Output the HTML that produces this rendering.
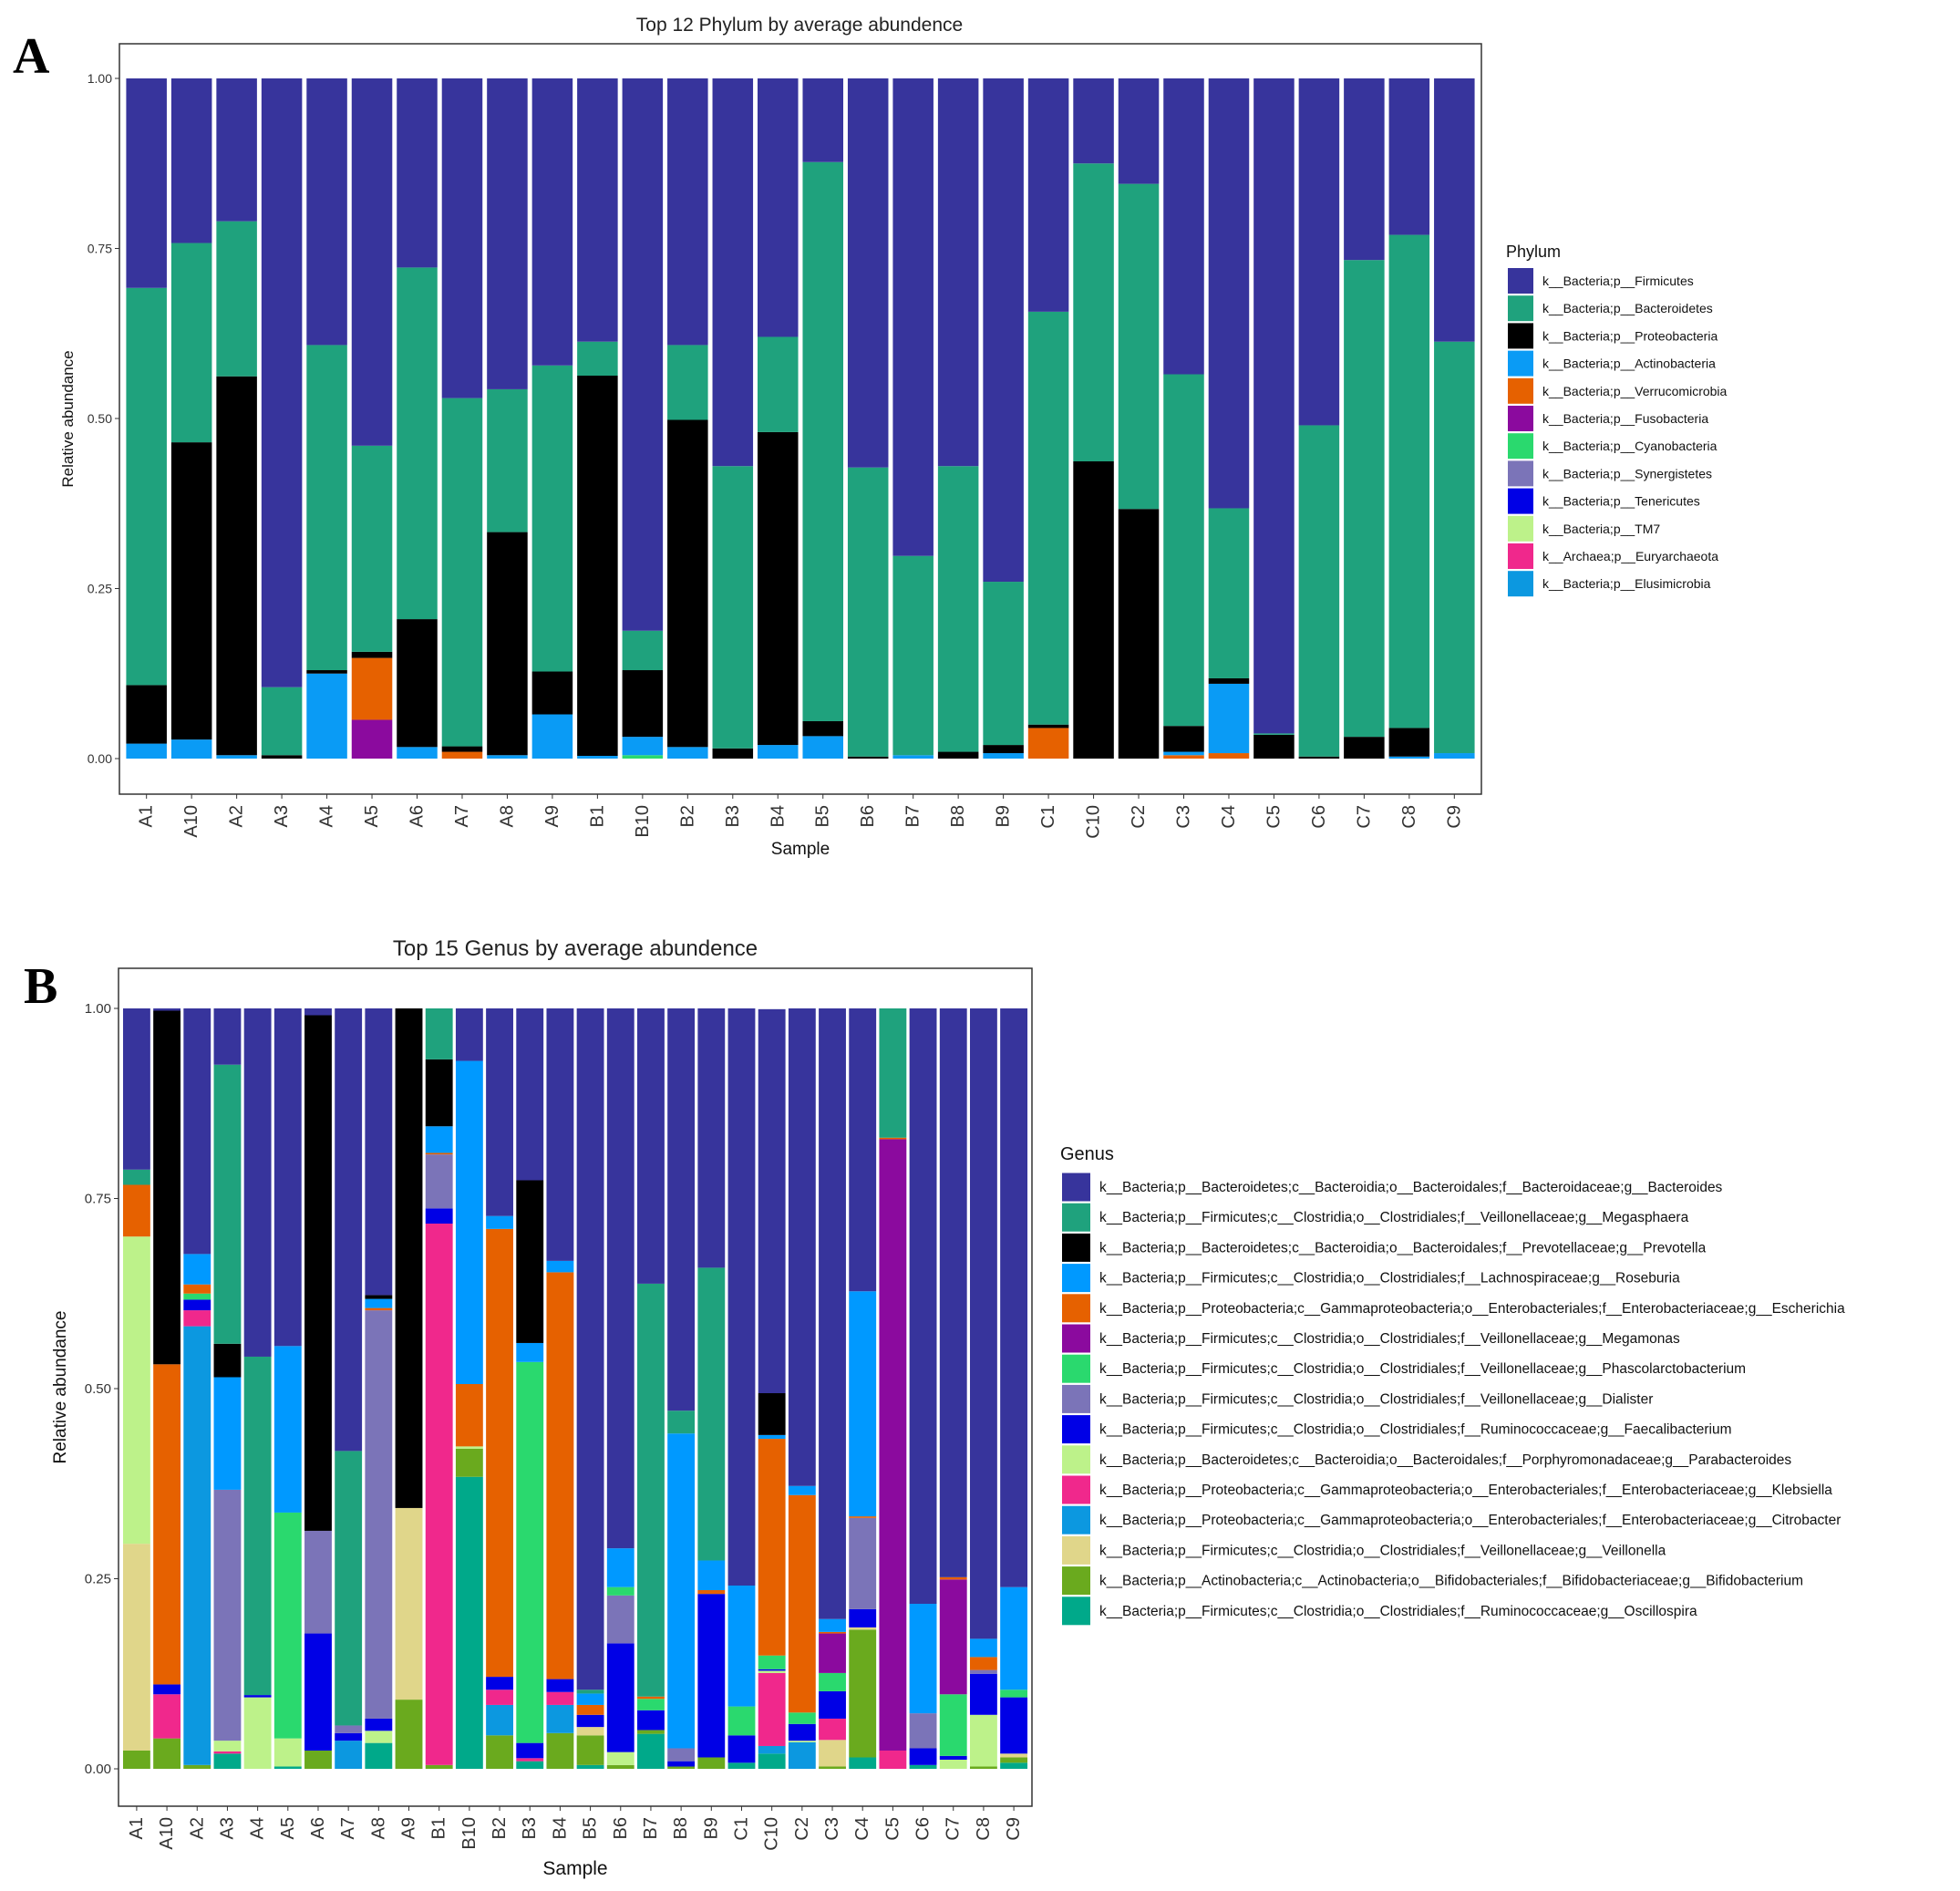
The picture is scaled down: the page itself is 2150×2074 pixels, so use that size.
<!DOCTYPE html>
<html><head><meta charset="utf-8">
<style>
body{margin:0;background:#fff;}
svg{display:block;font-family:"Liberation Sans",Arial,sans-serif;}
</style></head>
<body>
<svg id="chart" width="2150" height="2074" viewBox="0 0 2150 2074" xmlns="http://www.w3.org/2000/svg">
<text x="14" y="80" font-family="Liberation Serif,serif" font-weight="bold" font-size="56">A</text>
<text x="26" y="1100" font-family="Liberation Serif,serif" font-weight="bold" font-size="56">B</text>
<text x="877" y="34" text-anchor="middle" font-size="21" fill="#222">Top 12 Phylum by average abundence</text>
<text x="631" y="1048" text-anchor="middle" font-size="24" fill="#222">Top 15 Genus by average abundence</text>
<g id="ga"></g><g id="gb"></g>
</svg>
<script>
const samples=["A1","A10","A2","A3","A4","A5","A6","A7","A8","A9","B1","B10","B2","B3","B4","B5","B6","B7","B8","B9","C1","C10","C2","C3","C4","C5","C6","C7","C8","C9"];
const yTicks=[0,0.25,0.5,0.75,1];
const yTickLabels=["0.00","0.25","0.50","0.75","1.00"];

const phylumNames=["k__Bacteria;p__Firmicutes","k__Bacteria;p__Bacteroidetes","k__Bacteria;p__Proteobacteria","k__Bacteria;p__Actinobacteria","k__Bacteria;p__Verrucomicrobia","k__Bacteria;p__Fusobacteria","k__Bacteria;p__Cyanobacteria","k__Bacteria;p__Synergistetes","k__Bacteria;p__Tenericutes","k__Bacteria;p__TM7","k__Archaea;p__Euryarchaeota","k__Bacteria;p__Elusimicrobia"];
const phylumColors=["#37349C","#1FA27D","#000000","#0A9BF5","#E66100","#8B0A9E","#2AD96E","#7B74B8","#0000E6","#BDF28A","#F0288C","#0C98E0"];
const firmicutes=[.308,.242,.21,.895,.392,.54,.278,.47,.457,.422,.387,.812,.392,.57,.38,.123,.572,.702,.57,.74,.343,.125,.155,.435,.632,.963,.51,.267,.23,.387];
const bacteroidetes=[.584,.293,.228,.1,.478,.303,.517,.512,.21,.45,.05,.058,.11,.415,.14,.822,.425,.293,.42,.24,.607,.438,.478,.517,.25,.002,.487,.701,.725,.605];
const proteobacteria=[.086,.437,.557,.005,.005,.009,.188,.008,.328,.063,.559,.098,.481,.015,.46,.022,.003,0,.01,.012,.005,.437,.367,.038,.008,.035,.003,.032,.042,0];
const actinobacteria=[.022,.028,.005,0,.125,0,.017,0,.005,.065,.004,.027,.017,0,.02,.033,0,.005,0,.008,0,0,0,.005,.102,0,0,0,.003,.008];
const verrucomicrobia=[0,0,0,0,0,.091,0,.01,0,0,0,0,0,0,0,0,0,0,0,0,.045,0,0,.005,.008,0,0,0,0,0];
const fusobacteria=[0,0,0,0,0,.057,0,0,0,0,0,0,0,0,0,0,0,0,0,0,0,0,0,0,0,0,0,0,0,0];
const cyanobacteria=[0,0,0,0,0,0,0,0,0,0,0,.005,0,0,0,0,0,0,0,0,0,0,0,0,0,0,0,0,0,0];
const synergistetes=[0,0,0,0,0,0,0,0,0,0,0,0,0,0,0,0,0,0,0,0,0,0,0,0,0,0,0,0,0,0];
const tenericutes=[0,0,0,0,0,0,0,0,0,0,0,0,0,0,0,0,0,0,0,0,0,0,0,0,0,0,0,0,0,0];
const tm7=[0,0,0,0,0,0,0,0,0,0,0,0,0,0,0,0,0,0,0,0,0,0,0,0,0,0,0,0,0,0];
const euryarchaeota=[0,0,0,0,0,0,0,0,0,0,0,0,0,0,0,0,0,0,0,0,0,0,0,0,0,0,0,0,0,0];
const elusimicrobia=[0,0,0,0,0,0,0,0,0,0,0,0,0,0,0,0,0,0,0,0,0,0,0,0,0,0,0,0,0,0];
const phylumSeries=[firmicutes,bacteroidetes,proteobacteria,actinobacteria,verrucomicrobia,fusobacteria,cyanobacteria,synergistetes,tenericutes,tm7,euryarchaeota,elusimicrobia];

const genusNames=["k__Bacteria;p__Bacteroidetes;c__Bacteroidia;o__Bacteroidales;f__Bacteroidaceae;g__Bacteroides","k__Bacteria;p__Firmicutes;c__Clostridia;o__Clostridiales;f__Veillonellaceae;g__Megasphaera","k__Bacteria;p__Bacteroidetes;c__Bacteroidia;o__Bacteroidales;f__Prevotellaceae;g__Prevotella","k__Bacteria;p__Firmicutes;c__Clostridia;o__Clostridiales;f__Lachnospiraceae;g__Roseburia","k__Bacteria;p__Proteobacteria;c__Gammaproteobacteria;o__Enterobacteriales;f__Enterobacteriaceae;g__Escherichia","k__Bacteria;p__Firmicutes;c__Clostridia;o__Clostridiales;f__Veillonellaceae;g__Megamonas","k__Bacteria;p__Firmicutes;c__Clostridia;o__Clostridiales;f__Veillonellaceae;g__Phascolarctobacterium","k__Bacteria;p__Firmicutes;c__Clostridia;o__Clostridiales;f__Veillonellaceae;g__Dialister","k__Bacteria;p__Firmicutes;c__Clostridia;o__Clostridiales;f__Ruminococcaceae;g__Faecalibacterium","k__Bacteria;p__Bacteroidetes;c__Bacteroidia;o__Bacteroidales;f__Porphyromonadaceae;g__Parabacteroides","k__Bacteria;p__Proteobacteria;c__Gammaproteobacteria;o__Enterobacteriales;f__Enterobacteriaceae;g__Klebsiella","k__Bacteria;p__Proteobacteria;c__Gammaproteobacteria;o__Enterobacteriales;f__Enterobacteriaceae;g__Citrobacter","k__Bacteria;p__Firmicutes;c__Clostridia;o__Clostridiales;f__Veillonellaceae;g__Veillonella","k__Bacteria;p__Actinobacteria;c__Actinobacteria;o__Bifidobacteriales;f__Bifidobacteriaceae;g__Bifidobacterium","k__Bacteria;p__Firmicutes;c__Clostridia;o__Clostridiales;f__Ruminococcaceae;g__Oscillospira"];
const genusColors=["#37349C","#1FA27D","#000000","#0099FF","#E66100","#8B0A9E","#2AD96E","#7B74B8","#0000E6","#BDF28A","#F0288C","#0C98E0","#E0D68A","#6AAA1E","#00A98A"];
const bacteroides=[.212,.003,.323,.074,.458,.444,.009,.582,.377,0,0,.069,.273,.226,.332,.896,.71,.362,.529,.341,.759,.505,.628,.803,.372,0,.783,.748,.829,.761];
const megasphaera=[.02,0,0,.367,.445,0,0,.361,0,0,.067,0,0,0,0,.005,0,.543,.03,.385,0,0,0,0,0,.17,0,0,0,0];
const prevotella=[0,.465,0,.044,0,0,.678,0,.005,.657,.088,0,0,.214,0,0,0,0,0,0,0,.055,0,0,0,0,0,0,0,0];
const roseburia=[0,0,.04,.148,0,.219,0,0,.012,0,.035,.425,.017,.025,.015,.015,.051,0,.414,.039,.159,.005,.012,.017,.296,0,.144,0,.024,.135];
const escherichia=[.068,.421,.012,0,0,0,0,0,.003,0,.002,.082,.589,0,.535,.013,0,.003,0,.005,0,.285,.286,.002,.002,.002,0,.003,.017,0];
const megamonas=[0,0,0,0,0,0,0,0,0,0,0,0,0,0,0,0,0,0,0,0,0,0,0,.052,0,.804,0,.151,0,0];
const phascolarctobacterium=[0,0,.008,0,0,.297,0,0,0,0,0,0,0,.501,0,0,.011,.015,0,0,.038,.018,.015,.024,0,0,0,.081,0,.01];
const dialister=[0,0,0,.33,0,0,.135,.01,.537,0,.071,0,0,0,0,0,.063,0,.017,0,0,0,0,0,.12,0,.046,0,.005,0];
const faecalibacterium=[0,.013,.014,0,.003,0,.154,.01,.016,0,.02,0,.017,.02,.017,.016,.143,.026,.007,.215,.036,.002,.022,.036,.024,0,.022,.005,.054,.074];
const parabacteroides=[.404,0,0,.014,.094,.037,0,0,.016,0,0,.003,0,0,0,0,.017,0,0,0,0,.003,.002,0,0,0,0,.012,.068,0];
const klebsiella=[0,.058,.021,.003,0,0,0,0,0,0,.712,0,.02,.004,.017,0,0,0,0,0,0,.096,0,.028,0,.024,0,0,0,0];
const citrobacter=[0,0,.577,0,0,0,0,.037,0,0,0,0,.04,0,.037,0,0,0,0,0,0,.01,.035,0,0,0,0,0,0,0];
const veillonella=[.272,0,0,0,0,0,0,0,0,.252,0,0,0,0,0,.011,0,0,0,0,0,0,0,.035,.003,0,0,0,0,.005];
const bifidobacterium=[.024,.04,.005,0,0,0,.024,0,0,.091,.005,.037,.044,0,.047,.039,.005,.005,.003,.015,0,0,0,.003,.168,0,0,0,.003,.007];
const oscillospira=[0,0,0,.02,0,.003,0,0,.034,0,0,.384,0,.01,0,.005,0,.046,0,0,.008,.02,0,0,.015,0,.005,0,0,.008];
const genusSeries=[bacteroides,megasphaera,prevotella,roseburia,escherichia,megamonas,phascolarctobacterium,dialister,faecalibacterium,parabacteroides,klebsiella,citrobacter,veillonella,bifidobacterium,oscillospira];

const NS="http://www.w3.org/2000/svg";
function mk(parent,tag,attrs,text){const e=document.createElementNS(NS,tag);for(const k in attrs)e.setAttribute(k,attrs[k]);if(text!==undefined)e.textContent=text;parent.appendChild(e);return e;}

function panel(g,cfg){
  const {left,right,top,bottom,y0,y1,series,colors,names,key}=cfg;
  const n=samples.length;
  const step=(right-left)/(n+0.2);
  const xc=i=>left+step*(i+0.6);
  const yv=v=>y0-(y0-y1)*v;
  const bw=step*0.9;
  const frame=mk(g,'rect',{x:left,y:top,width:right-left,height:bottom-top,fill:'#fff',stroke:'#333','stroke-width':1.5});
  
  
  for(let i=0;i<n;i++){
    let cum=0;
    for(let s=series.length-1;s>=0;s--){
      const v=series[s][i];
      if(v<=0)continue;
      const r=mk(g,'rect',{x:xc(i)-bw/2,y:yv(cum+v),width:bw,height:yv(cum)-yv(cum+v),fill:colors[s]});
      
      
      cum+=v;
    }
    const t=mk(g,'text',{transform:`translate(${xc(i)+6},${bottom+12}) rotate(-90)`,'text-anchor':'end','font-size':cfg.xfs,fill:'#333'},samples[i]);
    
    
    mk(g,'line',{x1:xc(i),x2:xc(i),y1:bottom,y2:bottom+5,stroke:'#333'});
  }
  yTicks.forEach((v,j)=>{
    mk(g,'line',{x1:left-5,x2:left,y1:yv(v),y2:yv(v),stroke:'#333'});
    const t=mk(g,'text',{x:left-8,y:yv(v)+5,'text-anchor':'end','font-size':cfg.yfs,fill:'#333'},yTickLabels[j]);
    
    
  });
  const yt=mk(g,'text',{transform:`translate(${cfg.ytx},${(top+bottom)/2}) rotate(-90)`,'text-anchor':'middle','font-size':cfg.ytfs,fill:'#111'},'Relative abundance');
  
  
  const xt=mk(g,'text',{x:(left+right)/2,y:cfg.xty,'text-anchor':'middle','font-size':cfg.ytfs+2,fill:'#111'},'Sample');
  
  
  const lt=mk(g,'text',{x:cfg.lx,y:cfg.ly,'font-size':cfg.ltfs,fill:'#111'},cfg.legendTitle);
  
  
  names.forEach((nm,j)=>{
    const cy=cfg.ly0+j*cfg.lstep;
    const r=mk(g,'rect',{x:cfg.lx+2,y:cy-cfg.ks/2,width:cfg.ks,height:cfg.ks,fill:colors[j]});
    
    
    const t=mk(g,'text',{x:cfg.lx+cfg.ks+12,y:cy+5,'font-size':cfg.lfs,fill:'#111'},nm);
    
    
  });
}
panel(document.getElementById('ga'),{left:131,right:1625,top:48,bottom:871,y0:832,y1:86,series:phylumSeries,colors:phylumColors,names:phylumNames,key:'phylum',xfs:20,yfs:14,ytfs:17,ytx:80,xty:937,lx:1652,ly:282,ltfs:18,ly0:308,lstep:30.2,ks:28,lfs:14,legendTitle:'Phylum'});
panel(document.getElementById('gb'),{left:130,right:1132,top:1062,bottom:1981,y0:1940,y1:1106,series:genusSeries,colors:genusColors,names:genusNames,key:'genus',xfs:20,yfs:15,ytfs:19,ytx:72,xty:2056,lx:1163,ly:1272,ltfs:20,ly0:1302,lstep:33.2,ks:31,lfs:15.5,legendTitle:'Genus'});
</script>
</body></html>
